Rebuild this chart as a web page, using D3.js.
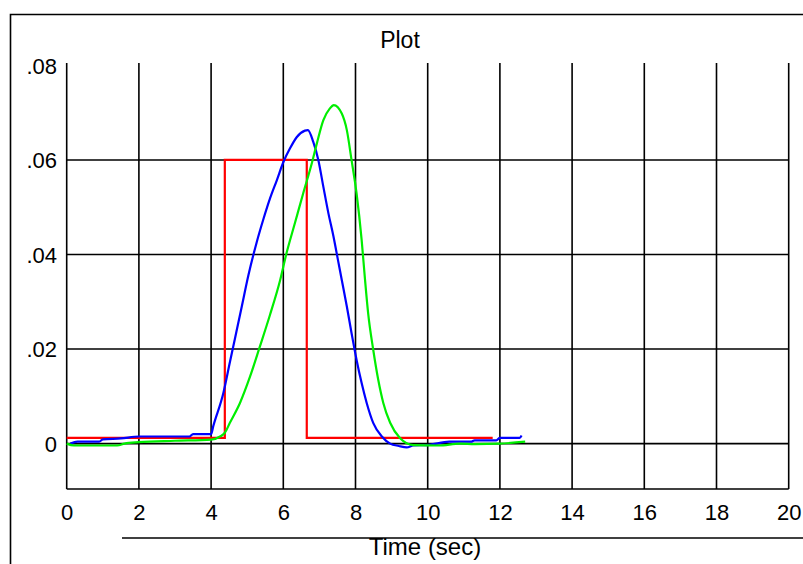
<!DOCTYPE html>
<html>
<head>
<meta charset="utf-8">
<script src="https://cdn.jsdelivr.net/npm/d3@7"></script>
<style>
  body { margin: 0; background: #fff; }
  svg text { font-family: "Liberation Sans", Arial, sans-serif; fill: #000; }
</style>
</head>
<body>
<div id="chart"></div>
<script>
// tick values and labels
var xTicks = [0, 2, 4, 6, 8, 10, 12, 14, 16, 18, 20];
var yTicks = [0, 0.02, 0.04, 0.06, 0.08];
var yTickLabels = ['0', '.02', '.04', '.06', '.08'];

// red: step input
var redT = [0, 4.38, 6.65, 11.8];
var redV = [0.0012, 0.06, 0.0012, 0.0012];

// blue response
var blueT = [0.1, 0.3, 0.9, 1.0, 1.5, 2.0, 3.4, 3.5, 4.0, 4.06, 4.34, 4.52, 4.66, 4.85, 5.03, 5.26, 5.45,
  5.63, 5.82, 6.0, 6.19, 6.37, 6.6, 6.68, 6.83, 6.97, 7.11, 7.25, 7.39, 7.52, 7.62, 7.76, 7.89,
  8.03, 8.17, 8.31, 8.49, 8.73, 8.96, 9.2, 9.42, 9.6, 10.0, 10.6, 11.2, 11.3, 11.9, 12.0, 12.55, 12.6];
var blueV = [0.0, 0.0004, 0.0004, 0.0009, 0.0011, 0.0015, 0.0015, 0.002, 0.002, 0.0037, 0.0107, 0.0172, 0.0222, 0.029, 0.0355, 0.0425, 0.0475,
  0.0518, 0.0557, 0.0595, 0.0625, 0.0648, 0.0662, 0.0663, 0.0638, 0.06, 0.0543, 0.0487, 0.0438, 0.0386, 0.0346, 0.029, 0.0234,
  0.0177, 0.0128, 0.0086, 0.0044, 0.0015, 0.0, -0.0005, -0.0008, -0.0004, -0.0003, 0.0004, 0.0004, 0.0007, 0.0007, 0.0012, 0.0012, 0.0017];

// green response
var greenT = [0, 0.2, 1.4, 1.6, 2.0, 3.0, 4.0, 4.25, 4.38, 4.52, 4.8, 5.08, 5.35, 5.63, 5.91, 6.09, 6.32, 6.55,
  6.79, 6.93, 7.11, 7.29, 7.4, 7.62, 7.76, 7.89, 8.03, 8.17, 8.26, 8.35, 8.49, 8.63, 8.77, 8.96, 9.23,
  9.6, 10.3, 10.9, 11.3, 12.0, 12.7];
var greenV = [0.0, -0.0004, -0.0004, 0.0, 0.0003, 0.0006, 0.00085, 0.0015, 0.0023, 0.0044, 0.0086, 0.0142, 0.0205, 0.0272, 0.0345, 0.0403, 0.0466, 0.0529,
  0.0593, 0.0635, 0.0684, 0.0709, 0.0716, 0.0698, 0.0663, 0.06, 0.0529, 0.0431, 0.035, 0.0276, 0.0199, 0.0135, 0.0086, 0.0044, 0.0012,
  -0.0003, -0.0004, 0.0, -0.0001, 0.0, 0.0004];

var width = 803, height = 564;

var svg = d3.select('#chart').append('svg')
  .attr('width', width)
  .attr('height', height);

var x = d3.scaleLinear().domain([0, 20]).range([66.7, 788.7]);
var y = d3.scaleLinear().domain([-0.0096, 0.0805]).range([489, 63]);

// outer frame (left + top only)
svg.append('path')
  .attr('d', 'M10.5,' + height + 'V14.5H' + width)
  .attr('fill', 'none')
  .attr('stroke', '#000')
  .attr('stroke-width', 1.6);

// grid
var grid = svg.append('g').attr('stroke', '#000').attr('stroke-width', 1.6);

grid.selectAll('.vline')
  .data(xTicks)
  .enter().append('line')
    .attr('x1', function(d) { return x(d); })
    .attr('x2', function(d) { return x(d); })
    .attr('y1', y.range()[1])
    .attr('y2', y.range()[0]);

grid.selectAll('.hline')
  .data(yTicks.filter(function(d) { return d < 0.08; }))
  .enter().append('line')
    .attr('x1', x(0))
    .attr('x2', x(20))
    .attr('y1', function(d) { return y(d); })
    .attr('y2', function(d) { return y(d); });

// bottom border
grid.append('line')
  .attr('x1', x(0)).attr('x2', x(20))
  .attr('y1', y.range()[0]).attr('y2', y.range()[0]);

// axes (labels only)
var xAxis = svg.append('g')
  .attr('transform', 'translate(0,' + y.range()[0] + ')')
  .call(d3.axisBottom(x).tickValues(xTicks).tickSize(0).tickPadding(0).tickFormat(d3.format('d')));
xAxis.select('.domain').remove();
xAxis.selectAll('text')
  .attr('y', 31)
  .attr('dy', 0)
  .style('font-size', '22px')
  .style('font-family', '"Liberation Sans", Arial, sans-serif');

var yAxis = svg.append('g')
  .attr('transform', 'translate(57,0)')
  .call(d3.axisLeft(y).tickValues(yTicks).tickSize(0).tickPadding(0)
    .tickFormat(function(d, i) { return yTickLabels[i]; }));
yAxis.select('.domain').remove();
yAxis.selectAll('text')
  .attr('x', 0)
  .attr('dy', '0.36em')
  .style('font-size', '22px')
  .style('font-family', '"Liberation Sans", Arial, sans-serif');

// series
function series(ts, vs, color, curve) {
  var pts = ts.map(function(t, i) { return [t, vs[i]]; });
  var line = d3.line()
    .x(function(d) { return x(d[0]); })
    .y(function(d) { return y(d[1]); })
    .curve(curve);
  svg.append('path')
    .datum(pts)
    .attr('d', line)
    .attr('fill', 'none')
    .attr('stroke', color)
    .attr('stroke-width', 2.2)
    .attr('stroke-linejoin', 'miter');
}

series(redT, redV, '#ff0000', d3.curveStepAfter);
series(blueT, blueV, '#0000ff', d3.curveMonotoneX);
series(greenT, greenV, '#00ee00', d3.curveMonotoneX);

// titles
svg.append('text')
  .attr('x', 400)
  .attr('y', 48)
  .attr('text-anchor', 'middle')
  .style('font-size', '23px')
  .text('Plot');

svg.append('line')
  .attr('x1', 122).attr('x2', width)
  .attr('y1', 538).attr('y2', 538)
  .attr('stroke', '#000')
  .attr('stroke-width', 1.6);

svg.append('text')
  .attr('x', 425)
  .attr('y', 555)
  .attr('text-anchor', 'middle')
  .style('font-size', '24px')
  .text('Time (sec)');
</script>
</body>
</html>
